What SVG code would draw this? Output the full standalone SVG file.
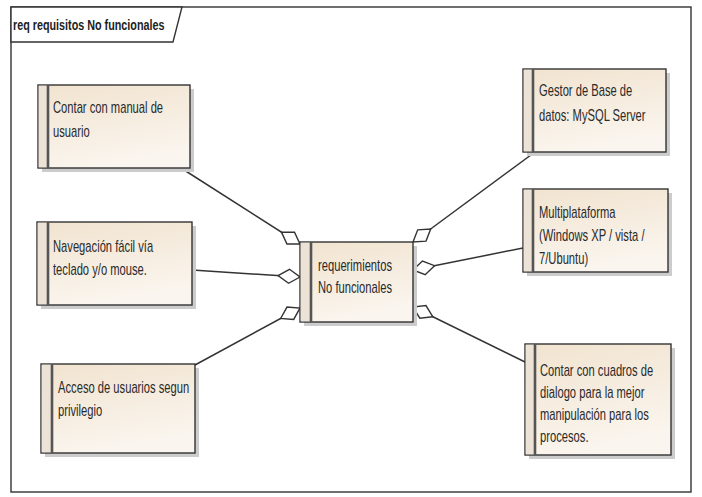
<svg xmlns="http://www.w3.org/2000/svg" width="702" height="497" viewBox="0 0 702 497">
<defs>
<linearGradient id="fillg" x1="0" y1="0" x2="0.3" y2="1">
<stop offset="0" stop-color="#f1e3cf"/>
<stop offset="1" stop-color="#faf5ee"/>
</linearGradient>
<marker id="diamond" markerUnits="userSpaceOnUse" markerWidth="26" markerHeight="18" refX="22" refY="8" orient="auto" overflow="visible">
<path d="M0,8 L11,1 L22,8 L11,15 Z" fill="#ffffff" stroke="#333333" stroke-width="1.4"/>
</marker>
<style>
.frame{fill:#ffffff;stroke:#333333;stroke-width:1.4}
.tab{fill:#ffffff;stroke:#333333;stroke-width:1.4}
.title{font-family:"Liberation Sans",Arial,sans-serif;font-size:14px;font-weight:bold;fill:#222222}
.shadow{fill:#cccccc}
.box{fill:url(#fillg);stroke:#333333;stroke-width:1.4}
.strip{fill:#ece2d6}
.bar{stroke:#555555;stroke-width:2.6}
.lbl{font-family:"Liberation Sans",Arial,sans-serif;font-size:16px;fill:#2a2a2a}
.conn{stroke:#333333;stroke-width:1.5;fill:none;marker-end:url(#diamond)}
</style>
</defs>
<rect x="0" y="0" width="702" height="497" fill="#ffffff"/>
<g id="frame">
<rect class="frame" x="11" y="7" width="680" height="485"/>
<path class="tab" d="M11,7 L182,7 L173,42 L11,42 Z"/>
<text class="title" transform="translate(13,30) scale(0.77,1)">req requisitos No funcionales</text>
</g>
<g id="connectors">
<line class="conn" x1="181" y1="168" x2="300" y2="244"/>
<line class="conn" x1="192" y1="270" x2="300" y2="277"/>
<line class="conn" x1="195" y1="365" x2="300" y2="308"/>
<line class="conn" x1="535" y1="152" x2="413" y2="242"/>
<line class="conn" x1="523" y1="248" x2="413" y2="270"/>
<line class="conn" x1="525" y1="362" x2="413" y2="307"/>
</g>
<g id="n-manual">
<rect class="shadow" x="42" y="89" width="152" height="83"/>
<rect class="box" x="38" y="85" width="152" height="83"/>
<rect class="strip" x="38.7" y="85.7" width="9" height="81.6"/>
<line class="bar" x1="48" y1="85" x2="48" y2="168"/>
<text class="lbl" transform="translate(53,113) scale(0.7,1)"><tspan x="0">Contar con manual de</tspan><tspan x="0" dy="24">usuario</tspan></text>
</g>
<g id="n-navegacion">
<rect class="shadow" x="41" y="226" width="155" height="83"/>
<rect class="box" x="37" y="222" width="155" height="83"/>
<rect class="strip" x="37.7" y="222.7" width="9.5" height="81.6"/>
<line class="bar" x1="48" y1="222" x2="48" y2="305"/>
<text class="lbl" transform="translate(53,252) scale(0.7,1)"><tspan x="0">Navegación fácil vía</tspan><tspan x="0" dy="23">teclado y/o mouse.</tspan></text>
</g>
<g id="n-acceso">
<rect class="shadow" x="45" y="368" width="154" height="89"/>
<rect class="box" x="41" y="364" width="154" height="89"/>
<rect class="strip" x="41.7" y="364.7" width="9.5" height="87.6"/>
<line class="bar" x1="52" y1="364" x2="52" y2="453"/>
<text class="lbl" transform="translate(58,393) scale(0.7,1)"><tspan x="0">Acceso de usuarios segun</tspan><tspan x="0" dy="23">privilegio</tspan></text>
</g>
<g id="n-central">
<rect class="shadow" x="304" y="246" width="113" height="80"/>
<rect class="box" x="300" y="242" width="113" height="80"/>
<rect class="strip" x="300.7" y="242.7" width="9.5" height="78.6"/>
<line class="bar" x1="311" y1="242" x2="311" y2="322"/>
<text class="lbl" transform="translate(318,271) scale(0.7,1)"><tspan x="0">requerimientos</tspan><tspan x="0" dy="22">No funcionales</tspan></text>
</g>
<g id="n-gestor">
<rect class="shadow" x="527" y="73" width="143" height="83"/>
<rect class="box" x="523" y="69" width="143" height="83"/>
<rect class="strip" x="523.7" y="69.7" width="9" height="81.6"/>
<line class="bar" x1="533" y1="69" x2="533" y2="152"/>
<text class="lbl" transform="translate(539,96) scale(0.7,1)"><tspan x="0">Gestor de Base de</tspan><tspan x="0" dy="25">datos: MySQL Server</tspan></text>
</g>
<g id="n-multiplataforma">
<rect class="shadow" x="527" y="193" width="145" height="83"/>
<rect class="box" x="523" y="189" width="145" height="83"/>
<rect class="strip" x="523.7" y="189.7" width="9" height="81.6"/>
<line class="bar" x1="533" y1="189" x2="533" y2="272"/>
<text class="lbl" transform="translate(539,218) scale(0.7,1)"><tspan x="0">Multiplataforma</tspan><tspan x="0" dy="23">(Windows XP / vista /</tspan><tspan x="0" dy="23">7/Ubuntu)</tspan></text>
</g>
<g id="n-dialogo">
<rect class="shadow" x="529" y="348" width="146" height="111"/>
<rect class="box" x="525" y="344" width="146" height="111"/>
<rect class="strip" x="525.7" y="344.7" width="9" height="109.6"/>
<line class="bar" x1="535" y1="344" x2="535" y2="455"/>
<text class="lbl" transform="translate(540,376) scale(0.7,1)"><tspan x="0">Contar con cuadros de</tspan><tspan x="0" dy="22">dialogo para la mejor</tspan><tspan x="0" dy="22">manipulación para los</tspan><tspan x="0" dy="22">procesos.</tspan></text>
</g>
</svg>
